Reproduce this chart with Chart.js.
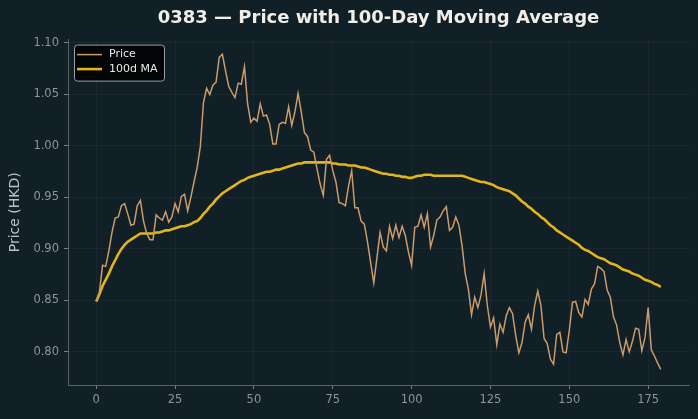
<!DOCTYPE html>
<html lang="en">
<head>
<meta charset="UTF-8">
<title>0383 — Price with 100-Day Moving Average</title>
<script src="https://cdn.jsdelivr.net/npm/chart.js"></script>
<style>
    html, body { margin: 0; padding: 0; background: #111f26; }
    #wrap { width: 698px; height: 419px; }
</style>
</head>
<body>
<div id="wrap"><canvas id="priceChart" width="698" height="419"></canvas></div>
<script>
// Daily close (180 sessions)
const prices = [
    0.849, 0.858, 0.884, 0.883, 0.898, 0.916, 0.930, 0.931, 0.942, 0.944,
    0.934, 0.923, 0.924, 0.942, 0.947, 0.927, 0.915, 0.909, 0.909, 0.933,
    0.930, 0.928, 0.936, 0.926, 0.931, 0.944, 0.936, 0.951, 0.953, 0.937,
    0.950, 0.965, 0.979, 0.999, 1.042, 1.056, 1.050, 1.059, 1.062, 1.086,
    1.089, 1.073, 1.058, 1.052, 1.047, 1.061, 1.060, 1.077, 1.041, 1.023,
    1.027, 1.024, 1.041, 1.029, 1.030, 1.021, 1.002, 1.002, 1.021, 1.023,
    1.022, 1.038, 1.020, 1.033, 1.051, 1.033, 1.013, 1.009, 0.996, 0.994,
    0.978, 0.963, 0.952, 0.987, 0.991, 0.976, 0.965, 0.945, 0.944, 0.942,
    0.961, 0.976, 0.940, 0.940, 0.927, 0.924, 0.907, 0.887, 0.867, 0.891,
    0.916, 0.902, 0.898, 0.922, 0.910, 0.923, 0.911, 0.922, 0.913, 0.897,
    0.884, 0.921, 0.922, 0.933, 0.921, 0.934, 0.902, 0.913, 0.928, 0.931,
    0.937, 0.941, 0.918, 0.921, 0.931, 0.923, 0.903, 0.876, 0.861, 0.836,
    0.853, 0.843, 0.855, 0.876, 0.845, 0.824, 0.833, 0.807, 0.827, 0.819,
    0.835, 0.843, 0.837, 0.816, 0.799, 0.809, 0.829, 0.836, 0.822, 0.845,
    0.859, 0.845, 0.813, 0.808, 0.793, 0.788, 0.817, 0.819, 0.800, 0.799,
    0.821, 0.848, 0.849, 0.838, 0.834, 0.851, 0.846, 0.861, 0.866, 0.883,
    0.881, 0.878, 0.860, 0.853, 0.834, 0.826, 0.809, 0.797, 0.812, 0.800,
    0.810, 0.823, 0.822, 0.801, 0.814, 0.843, 0.802, 0.796, 0.789, 0.783
];

// 100-day moving average
const ma100 = [
    0.849, 0.856, 0.864, 0.870, 0.876, 0.883, 0.889, 0.895, 0.900, 0.904,
    0.907, 0.909, 0.911, 0.913, 0.915, 0.915, 0.915, 0.915, 0.915, 0.916,
    0.916, 0.917, 0.918, 0.918, 0.919, 0.920, 0.921, 0.922, 0.922, 0.923,
    0.924, 0.926, 0.927, 0.930, 0.934, 0.937, 0.941, 0.944, 0.948, 0.951,
    0.954, 0.956, 0.958, 0.960, 0.962, 0.964, 0.966, 0.967, 0.969, 0.970,
    0.971, 0.972, 0.973, 0.974, 0.975, 0.975, 0.976, 0.977, 0.977, 0.978,
    0.979, 0.980, 0.981, 0.982, 0.983, 0.983, 0.984, 0.984, 0.984, 0.984,
    0.984, 0.984, 0.984, 0.984, 0.984, 0.983, 0.983, 0.982, 0.982, 0.982,
    0.981, 0.981, 0.981, 0.980, 0.979, 0.979, 0.978, 0.977, 0.976, 0.975,
    0.974, 0.973, 0.973, 0.972, 0.972, 0.971, 0.971, 0.970, 0.970, 0.969,
    0.969, 0.970, 0.971, 0.971, 0.972, 0.972, 0.972, 0.971, 0.971, 0.971,
    0.971, 0.971, 0.971, 0.971, 0.971, 0.971, 0.971, 0.970, 0.969, 0.968,
    0.967, 0.966, 0.965, 0.965, 0.964, 0.963, 0.962, 0.960, 0.959, 0.958,
    0.957, 0.956, 0.954, 0.952, 0.949, 0.946, 0.944, 0.941, 0.939, 0.936,
    0.934, 0.931, 0.929, 0.926, 0.923, 0.921, 0.918, 0.916, 0.914, 0.912,
    0.910, 0.908, 0.906, 0.904, 0.901, 0.899, 0.898, 0.896, 0.894, 0.892,
    0.891, 0.890, 0.888, 0.886, 0.885, 0.884, 0.882, 0.880, 0.879, 0.878,
    0.876, 0.875, 0.874, 0.872, 0.870, 0.869, 0.868, 0.866, 0.865, 0.863
];

const xTicks = [0, 25, 50, 75, 100, 125, 150, 175];
const yTicks = [0.80, 0.85, 0.90, 0.95, 1.00, 1.05, 1.10];

const FONT = 'DejaVu Sans';
const PRICE_COLOR = '#c99b6d';
const MA_COLOR = '#e2b51c';

// legend box drawn inside the plot, top left
const insideLegend = {
    id: 'insideLegend',
    afterDraw(chart) {
        const ctx = chart.ctx;
        const x = chart.chartArea.left + 6, y = chart.chartArea.top + 5;
        const w = 90, h = 36;
        ctx.save();
        ctx.beginPath();
        ctx.roundRect(x + 0.5, y + 0.5, w, h, 3);
        ctx.fillStyle = 'rgba(0,0,0,0.85)';
        ctx.fill();
        ctx.strokeStyle = '#9aa0a3';
        ctx.lineWidth = 1;
        ctx.stroke();
        ctx.font = '11px ' + FONT;
        ctx.textBaseline = 'middle';
        chart.data.datasets.forEach((ds, i) => {
            const ly = y + 10 + i * 14.5;
            ctx.beginPath();
            ctx.moveTo(x + 3, ly);
            ctx.lineTo(x + 28, ly);
            ctx.strokeStyle = ds.borderColor;
            ctx.lineWidth = ds.borderWidth;
            ctx.stroke();
            ctx.fillStyle = '#e8e8e8';
            ctx.fillText(ds.label, x + 35, ly);
        });
        ctx.restore();
    }
};

const days = prices.map((_, i) => i);

new Chart(document.getElementById('priceChart').getContext('2d'), {
    type: 'line',
    data: {
        datasets: [{
            label: 'Price',
            data: days.map(d => ({ x: d, y: prices[d] })),
            borderColor: PRICE_COLOR,
            borderWidth: 1.5,
            pointRadius: 0,
            tension: 0
        }, {
            label: '100d MA',
            data: days.map(d => ({ x: d, y: ma100[d] })),
            borderColor: MA_COLOR,
            borderWidth: 2.6,
            pointRadius: 0,
            tension: 0
        }]
    },
    options: {
        responsive: false,
        animation: false,
        devicePixelRatio: 1,
        layout: { padding: { left: 0, right: 9, top: 0, bottom: 0 } },
        plugins: {
            legend: { display: false },
            tooltip: { enabled: false },
            title: {
                display: true,
                fullSize: false,
                text: '0383 — Price with 100-Day Moving Average',
                color: '#f1eee8',
                font: { family: FONT, size: 18, weight: 'bold' },
                padding: { top: 8, bottom: 10 }
            }
        },
        scales: {
            x: {
                type: 'linear',
                min: -8.95,
                max: 187.95,
                afterBuildTicks: s => { s.ticks = xTicks.map(v => ({ value: v })); },
                afterFit: s => { s.height = 34; },
                grid: { color: 'rgba(255,255,255,0.04)', tickColor: '#7a8286', tickLength: 4 },
                border: { color: '#586064', width: 1 },
                ticks: {
                    color: '#8d9598',
                    font: { family: FONT, size: 11.5 },
                    padding: 4,
                    maxRotation: 0,
                    callback: v => String(v)
                }
            },
            y: {
                min: 0.7678,
                max: 1.1033,
                afterBuildTicks: s => { s.ticks = yTicks.map(v => ({ value: v })); },
                afterFit: s => { s.width = 68; },
                grid: { color: 'rgba(255,255,255,0.04)', tickColor: '#7a8286', tickLength: 4 },
                border: { color: '#586064', width: 1 },
                ticks: {
                    color: '#8d9598',
                    font: { family: FONT, size: 11.5 },
                    padding: 5,
                    callback: v => v.toFixed(2)
                },
                title: {
                    display: true,
                    text: 'Price (HKD)',
                    color: '#bcc3c6',
                    font: { family: FONT, size: 14 },
                    padding: { top: 7, bottom: 0 }
                }
            }
        }
    },
    plugins: [insideLegend]
});
</script>
</body>
</html>
